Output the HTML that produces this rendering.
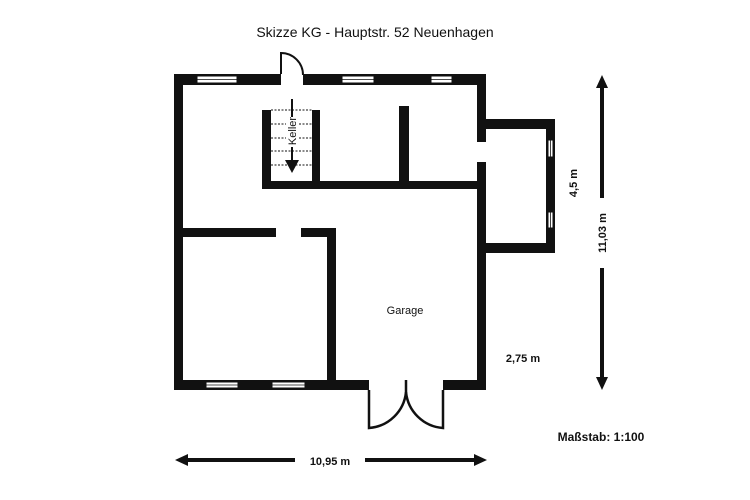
<!DOCTYPE html>
<html><head><meta charset="utf-8"><style>
html,body{margin:0;padding:0;background:#fff;}
svg{display:block;}
text{font-family:"Liberation Sans",Arial,sans-serif;fill:#111;}
</style></head><body>
<svg width="750" height="500" viewBox="0 0 750 500" xmlns="http://www.w3.org/2000/svg">
<rect width="750" height="500" fill="#fff"/>
<text x="375" y="37" font-size="14" text-anchor="middle">Skizze KG - Hauptstr. 52 Neuenhagen</text>
<g fill="#111">
<!-- outer top wall -->
<rect x="174" y="74" width="107" height="11"/>
<rect x="303" y="74" width="183" height="11"/>
<!-- left wall -->
<rect x="174" y="74" width="9" height="316"/>
<!-- right wall -->
<rect x="477" y="74" width="9" height="68"/>
<rect x="477" y="162" width="9" height="228"/>
<!-- bay -->
<rect x="486" y="119" width="69" height="10"/>
<rect x="546" y="119" width="9" height="134"/>
<rect x="486" y="243" width="69" height="10"/>
<!-- stair box -->
<rect x="262" y="110" width="9" height="79"/>
<rect x="312" y="110" width="8" height="79"/>
<rect x="262" y="181" width="215" height="8"/>
<rect x="399" y="106" width="10" height="75"/>
<!-- middle walls -->
<rect x="174" y="228" width="102" height="9"/>
<rect x="301" y="228" width="35" height="9"/>
<rect x="327" y="228" width="9" height="162"/>
<!-- bottom wall -->
<rect x="174" y="380" width="195" height="10"/>
<rect x="443" y="380" width="43" height="10"/>
</g>
<!-- windows -->
<g fill="#fff" stroke="#111" stroke-width="1">
<rect x="197" y="76" width="40" height="7"/>
<rect x="342" y="76" width="32" height="7"/>
<rect x="431" y="76" width="21" height="7"/>
<rect x="206" y="382" width="32" height="6"/>
<rect x="272" y="382" width="33" height="6"/>
<rect x="548" y="140" width="5" height="17"/>
<rect x="548" y="212" width="5" height="16"/>
</g>
<g stroke="#111" stroke-width="0.8">
<line x1="197" y1="79.5" x2="237" y2="79.5"/><line x1="342" y1="79.5" x2="374" y2="79.5"/><line x1="431" y1="79.5" x2="452" y2="79.5"/>
<line x1="206" y1="385" x2="238" y2="385"/><line x1="272" y1="385" x2="305" y2="385"/>
<line x1="550.5" y1="140" x2="550.5" y2="157"/><line x1="550.5" y1="212" x2="550.5" y2="228"/>
</g>
<!-- top door -->
<path d="M281 74 L281 53 A22 22 0 0 1 303 75" fill="none" stroke="#111" stroke-width="2"/>
<!-- stairs dotted -->
<g stroke="#111" stroke-width="1" stroke-dasharray="2,1.5">
<line x1="271" y1="110" x2="312" y2="110"/><line x1="271" y1="124" x2="312" y2="124"/>
<line x1="271" y1="138" x2="312" y2="138"/><line x1="271" y1="151" x2="312" y2="151"/>
<line x1="271" y1="165" x2="312" y2="165"/>
</g>
<line x1="292" y1="99" x2="292" y2="162" stroke="#111" stroke-width="2"/>
<rect x="286" y="117" width="12" height="30" fill="#fff"/>
<polygon points="285,160 299,160 292,173" fill="#111"/>
<text x="0" y="0" font-size="11" text-anchor="middle" transform="translate(296,131) rotate(-90)">Keller</text>
<!-- garage doors -->
<g fill="none" stroke="#111" stroke-width="2.5">
<path d="M369 390 L369 428 A40 40 0 0 0 406 392 L406 380"/>
<path d="M443 390 L443 428 A40 40 0 0 1 406 392"/>
</g>
<text x="405" y="314" font-size="11" text-anchor="middle">Garage</text>
<!-- dimension arrows -->
<g fill="#111">
<rect x="185" y="458" width="110" height="4"/>
<polygon points="175,460 188,454 188,466"/>
<rect x="365" y="458" width="112" height="4"/>
<polygon points="487,460 474,454 474,466"/>
<rect x="600" y="85" width="4" height="113"/>
<polygon points="602,75 596,88 608,88"/>
<rect x="600" y="268" width="4" height="112"/>
<polygon points="602,390 596,377 608,377"/>
</g>
<text x="330" y="465" font-size="11" font-weight="bold" text-anchor="middle">10,95 m</text>
<text x="0" y="0" font-size="11" font-weight="bold" text-anchor="middle" transform="translate(606,233) rotate(-90)">11,03 m</text>
<text x="0" y="0" font-size="11" font-weight="bold" text-anchor="middle" transform="translate(577,183) rotate(-90)">4,5 m</text>
<text x="523" y="362" font-size="11" font-weight="bold" text-anchor="middle">2,75 m</text>
<text x="601" y="441" font-size="12" font-weight="bold" text-anchor="middle">Maßstab: 1:100</text>
</svg>
</body></html>
